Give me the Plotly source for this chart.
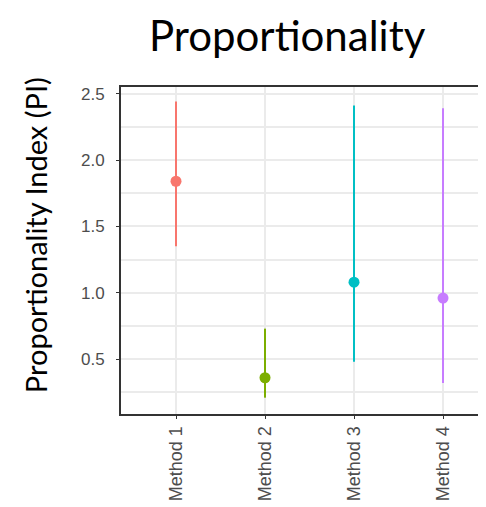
import plotly.graph_objects as go

methods = ["Method 1", "Method 2", "Method 3", "Method 4"]
estimate = [1.84, 0.36, 1.08, 0.96]
upper = [2.44, 0.73, 2.41, 2.39]
lower = [1.35, 0.21, 0.48, 0.32]
colors = ["#F8766D", "#7CAE00", "#00BFC4", "#C77CFF"]
yticks = [0.5, 1.0, 1.5, 2.0, 2.5]
yticklabels = ["0.5", "1.0", "1.5", "2.0", "2.5"]
yminor = [0.25, 0.75, 1.25, 1.75, 2.25]

fig = go.Figure()
for i, m in enumerate(methods):
    fig.add_trace(go.Scatter(
        x=[i + 1], y=[estimate[i]], mode="markers",
        marker=dict(color=colors[i], size=11),
        error_y=dict(type="data", symmetric=False,
                     array=[upper[i] - estimate[i]],
                     arrayminus=[estimate[i] - lower[i]],
                     color=colors[i], thickness=2, width=0),
        showlegend=False, cliponaxis=False))

fig.update_layout(
    width=478, height=499,
    margin=dict(l=113, r=0, t=79, b=93),
    paper_bgcolor="white", plot_bgcolor="white",
    title=dict(text="Proportionality", x=0.584, xanchor="center", y=0.943, yanchor="middle",
               font=dict(family="Lato", size=42, color="black")),
    xaxis=dict(range=[0.382, 4.483], tickmode="array", tickvals=[1, 2, 3, 4], ticktext=methods,
               tickangle=-90, showgrid=True, gridcolor="#ebebeb", gridwidth=1.5,
               showline=True, linecolor="#333333", linewidth=2, mirror=True,
               ticks="outside", ticklen=3, tickcolor="#333333", ticklabelstandoff=0,
               tickfont=dict(family="Liberation Sans", size=18, color="#4d4d4d"), zeroline=False),
    yaxis=dict(range=[0.087, 2.55], tickmode="array", tickvals=yticks, ticktext=yticklabels,
               showgrid=True, gridcolor="#ebebeb", gridwidth=1.5,
               minor=dict(tickvals=yminor, showgrid=True, gridcolor="#ebebeb", gridwidth=1.5),
               showline=True, linecolor="#333333", linewidth=2,
               ticks="outside", ticklen=3, tickcolor="#333333", ticklabelstandoff=8,
               tickfont=dict(family="Liberation Sans", size=17, color="#4d4d4d"), zeroline=False),
    annotations=[dict(text="Proportionality Index (PI)", textangle=-90, xref="paper", yref="paper",
                      x=-0.2356, y=0.547, xanchor="center", yanchor="middle", showarrow=False,
                      font=dict(family="Lato", size=29, color="black"))],
)

fig.write_html("out.html")
